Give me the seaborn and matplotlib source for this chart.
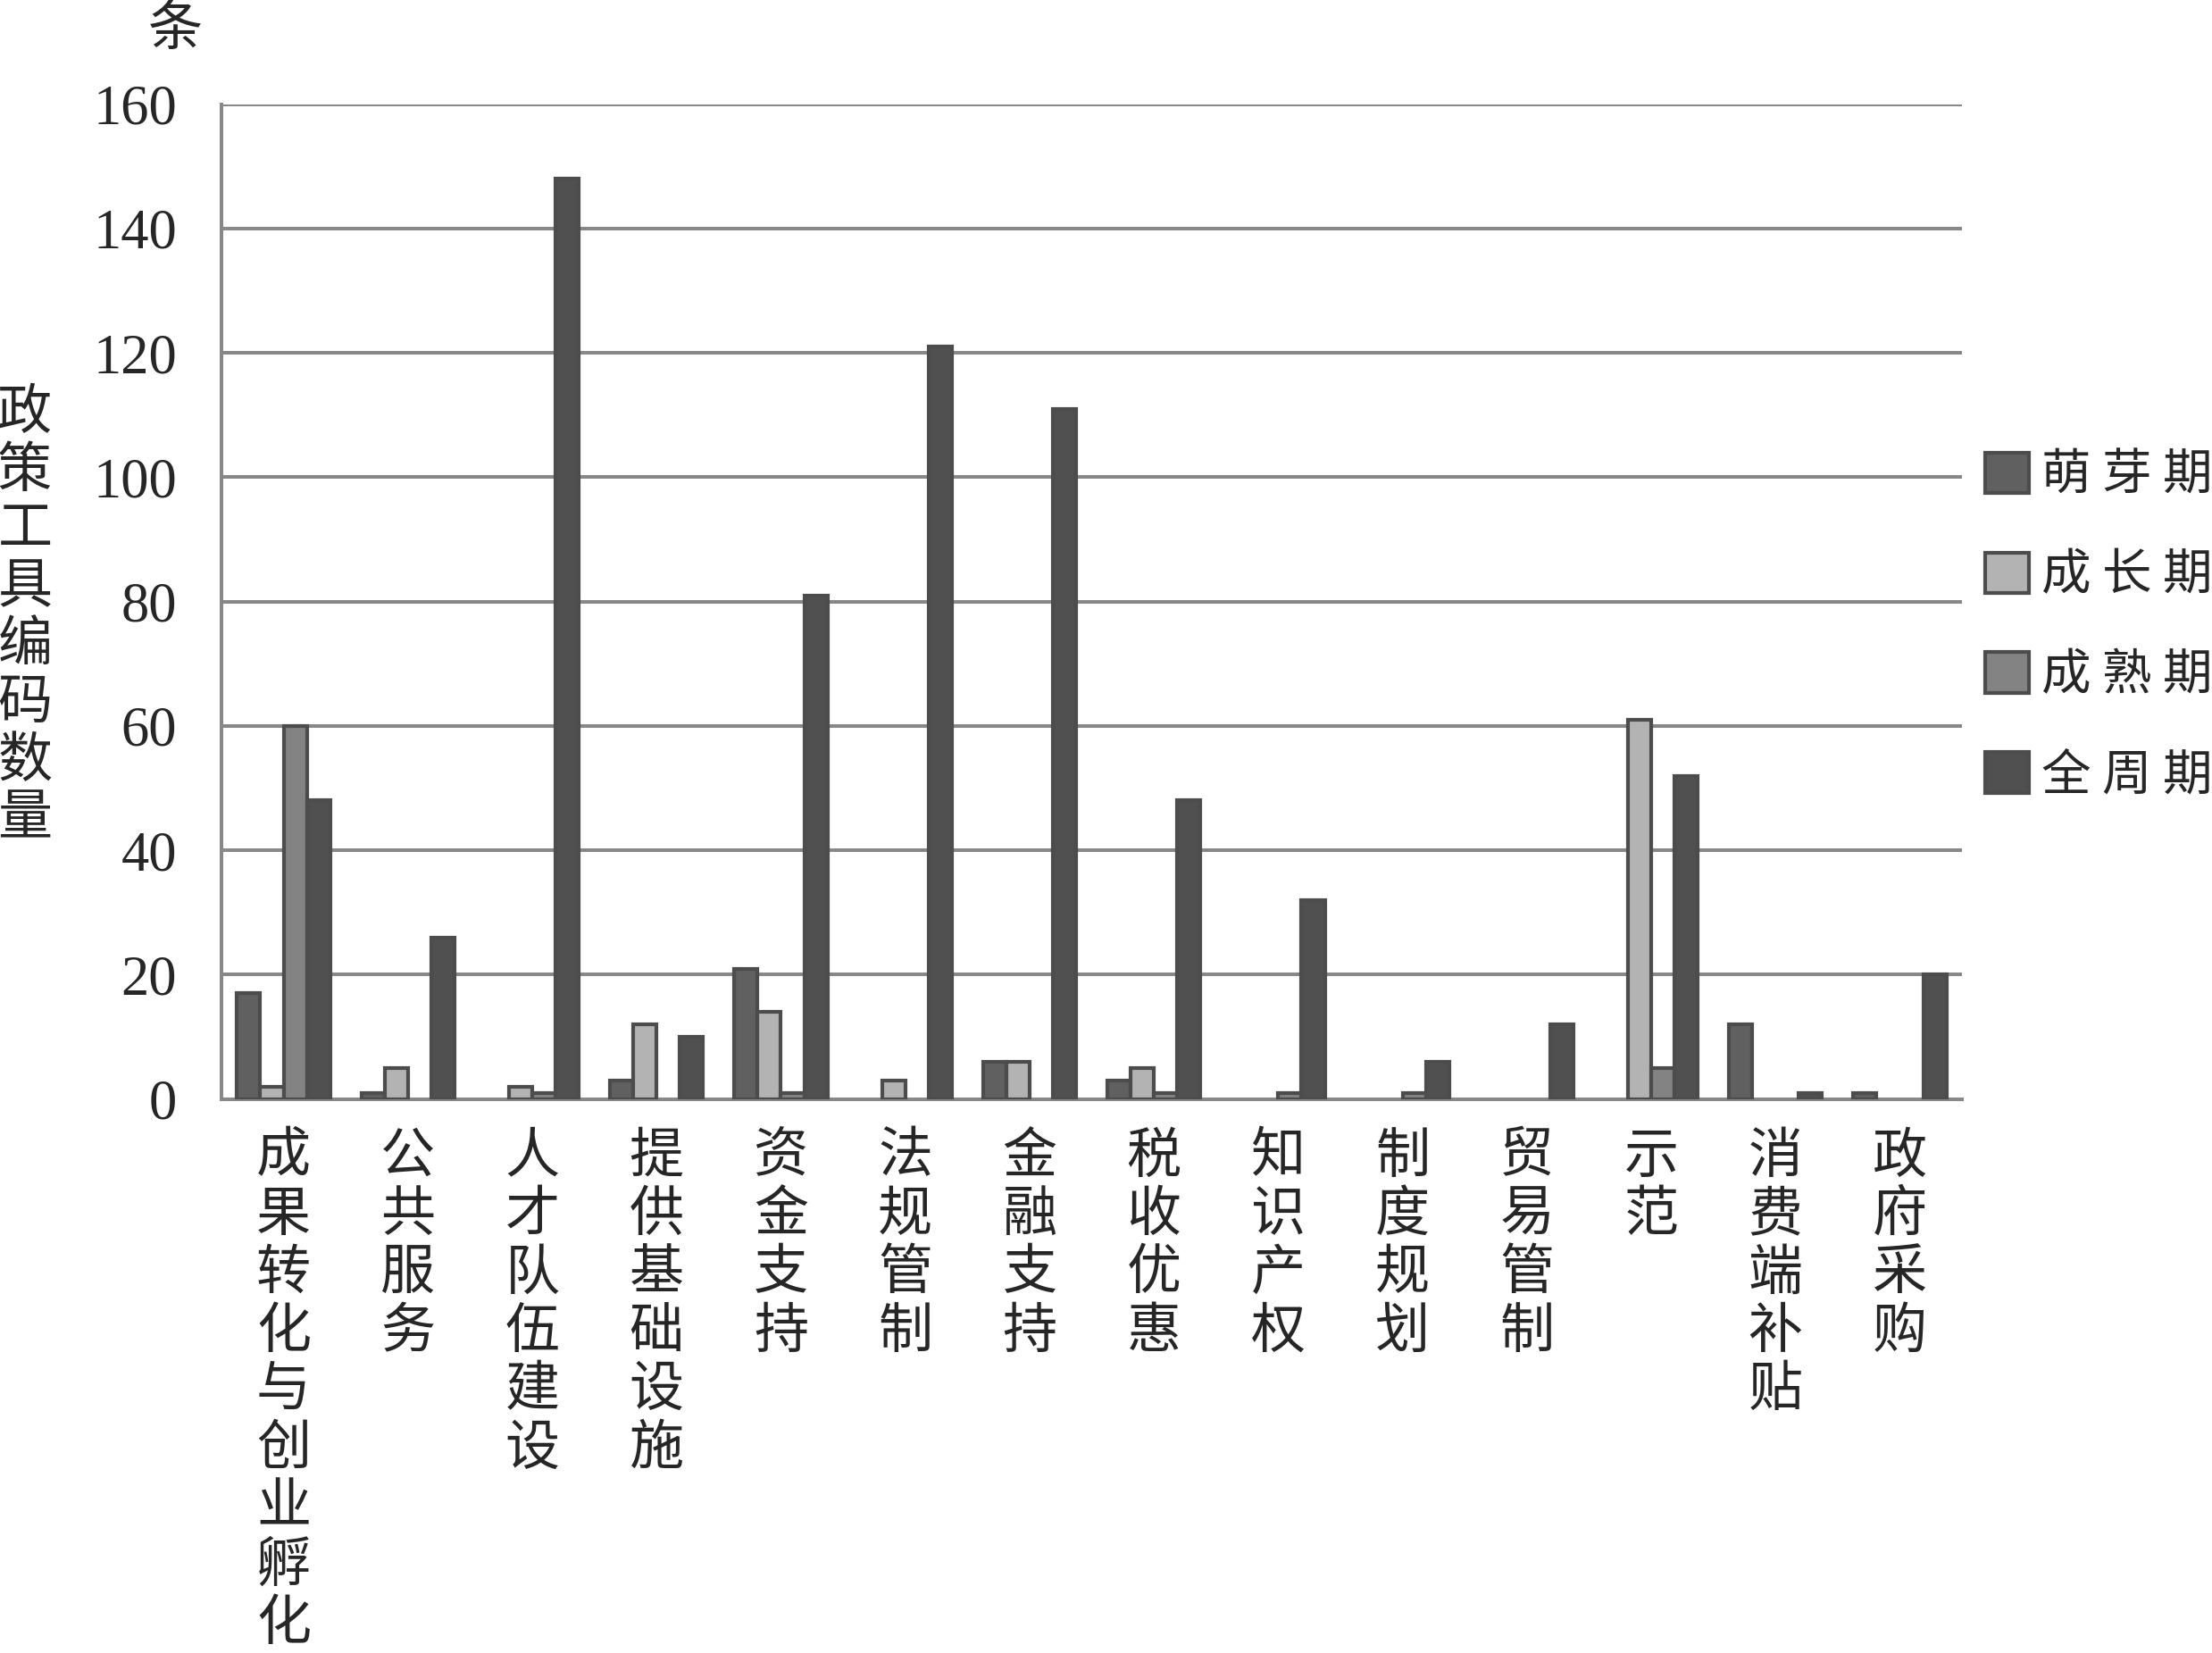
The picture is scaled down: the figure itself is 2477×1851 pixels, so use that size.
import numpy as np
import pandas as pd
import matplotlib
matplotlib.use('Agg')
import matplotlib.pyplot as plt
import seaborn as sns

sns.set_style('white')
plt.rcParams['font.family'] = ['Liberation Serif', 'Noto Sans CJK SC']

# data
categories = ['成果转化与创业孵化', '公共服务', '人才队伍建设', '提供基础设施', '资金支持',
              '法规管制', '金融支持', '税收优惠', '知识产权', '制度规划', '贸易管制',
              '示范', '消费端补贴', '政府采购']
periods = ['萌芽期', '成长期', '成熟期', '全周期']
sprout = [17, 1, 0, 3, 21, 0, 6, 3, 0, 0, 0, 0, 12, 1]
growth = [2, 5, 2, 12, 14, 3, 6, 5, 0, 0, 0, 61, 0, 0]
mature = [60, 0, 1, 0, 1, 0, 0, 1, 1, 1, 0, 5, 0, 0]
whole = [48, 26, 148, 10, 81, 121, 111, 48, 32, 6, 12, 52, 1, 20]
yticks = [0, 20, 40, 60, 80, 100, 120, 140, 160]

colors = ['#606060', '#b3b3b3', '#838383', '#505050']
grid_c = '#888888'
cjk = ['Noto Sans CJK SC']

rows = []
for p, vals in zip(periods, [sprout, growth, mature, whole]):
    for c, v in zip(categories, vals):
        rows.append({'category': c, 'period': p, 'count': v})
df = pd.DataFrame(rows)

fig = plt.figure(figsize=(24.77, 18.51), dpi=100)
ax = fig.add_axes([0.1001, 0.3351, 0.8870 - 0.1001, 0.9370 - 0.3351])
ax.set_axisbelow(True)

sns.barplot(data=df, x='category', y='count', hue='period', order=categories,
            hue_order=periods, palette=colors, width=0.75, edgecolor='#4c4c4c',
            linewidth=3.0, saturation=1, ax=ax)

# zero bars are not drawn in the original
for bar in ax.patches:
    if bar.get_height() == 0:
        bar.set_visible(False)

ax.set_ylim(0, 160)
ax.set_xlim(-0.5, len(categories) - 0.5)
ax.set_yticks(yticks)
ax.set_yticklabels([str(t) for t in yticks], fontsize=45, family=['Liberation Serif'])
ax.yaxis.grid(True, color=grid_c, linewidth=2.9)
ax.tick_params(axis='y', length=20, width=2.9, color=grid_c, pad=16)

ax.set_xticks(np.arange(-0.5, len(categories), 1))
ax.set_xticklabels([])
ax.set_xticks(np.arange(len(categories)), minor=True)
ax.set_xticklabels(['\n'.join(c) for c in categories], minor=True,
                   fontsize=44, family=cjk, linespacing=1.06, va='top')
ax.tick_params(axis='x', which='major', length=20, width=2.9, color=grid_c)
ax.tick_params(axis='x', which='minor', length=0, pad=24)

for side in ['top', 'right']:
    ax.spines[side].set_visible(False)
for side in ['left', 'bottom']:
    ax.spines[side].set_color(grid_c)
    ax.spines[side].set_linewidth(2.9)
    ax.spines[side].set_zorder(0.5)

ax.set_xlabel('')
ax.set_ylabel('')

fig.text(28 / 2477, 1 - 690 / 1851, '\n'.join('政策工具编码数量'), fontsize=44,
         family=cjk, ha='center', va='center', linespacing=1.05)
fig.text(196 / 2477, 1 - 34 / 1851, '条', fontsize=44, family=cjk,
         ha='center', va='center')

old = ax.get_legend()
handles = old.legend_handles
labels = [' '.join(t.get_text()) for t in old.get_texts()]
old.remove()
ax.legend(handles, labels, loc='upper left', bbox_to_anchor=(2223 / 2477, 1 - 504 / 1851),
          bbox_transform=fig.transFigure, frameon=False, borderpad=0, borderaxespad=0,
          handlelength=0.88, handleheight=0.88, handletextpad=0.25, labelspacing=0.98,
          prop={'family': cjk, 'size': 40})

fig.savefig('out.png', dpi=100)
